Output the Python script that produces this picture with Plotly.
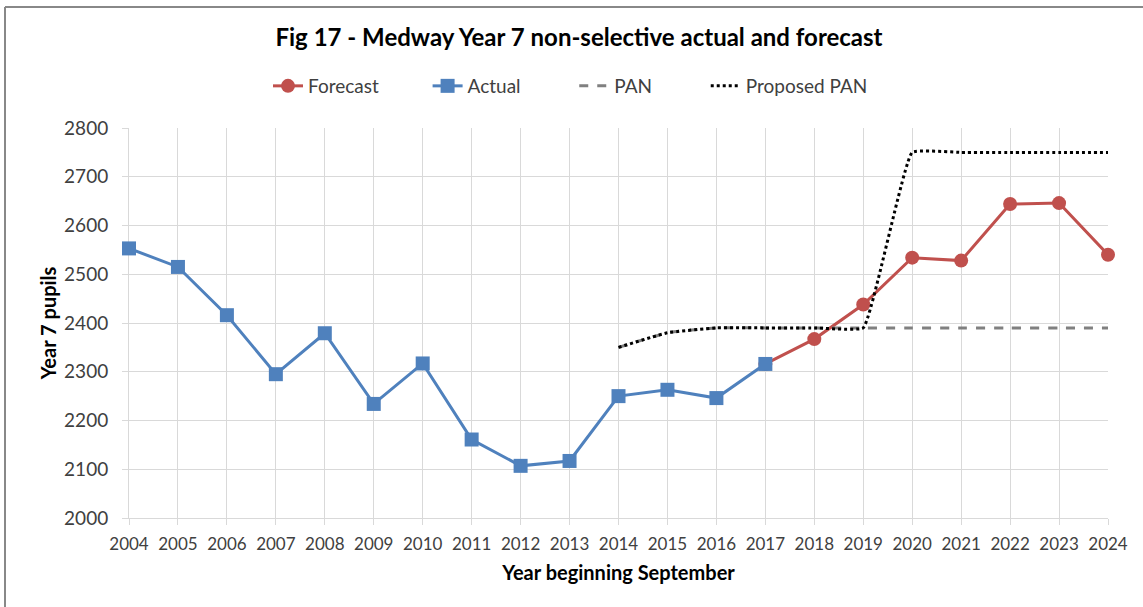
import plotly.graph_objects as go

years = list(range(2004, 2025))
actual_years = list(range(2004, 2018))
actual_vals = [2553, 2515, 2416, 2295, 2379, 2234, 2317, 2161, 2107, 2117, 2250, 2263, 2246, 2316]
forecast_years = list(range(2017, 2025))
forecast_vals = [2316, 2367, 2438, 2534, 2528, 2644, 2646, 2540]
pan_years = list(range(2014, 2025))
pan_vals = [2350, 2380, 2390, 2390, 2390, 2390, 2390, 2390, 2390, 2390, 2390]
prop_years = list(range(2014, 2025))
prop_vals = [2350, 2380, 2390, 2390, 2390, 2390, 2750, 2750, 2750, 2750, 2750]
y_ticks = [2000, 2100, 2200, 2300, 2400, 2500, 2600, 2700, 2800]

W, H = 1143, 607
L, R, T, B = 129, 1108, 128, 518

def px(xp):
    return (xp - L) / (R - L)

def py(yp):
    return (B - yp) / (B - T)

NB = "\u00a0"

fig = go.Figure()
fig.add_trace(go.Scatter(
    x=forecast_years, y=forecast_vals, name="Forecast" + NB * 9, mode="lines+markers",
    line=dict(color="#C0504D", width=3), cliponaxis=False,
    marker=dict(symbol="circle", size=14, color="#C0504D"), legendrank=1))
fig.add_trace(go.Scatter(
    x=actual_years, y=actual_vals, name="Actual" + NB * 10, mode="lines+markers",
    line=dict(color="#4F81BD", width=3), cliponaxis=False,
    marker=dict(symbol="square", size=14, color="#4F81BD"), legendrank=2))
fig.add_trace(go.Scatter(
    x=pan_years, y=pan_vals, name="PAN" + NB * 10, mode="lines",
    line=dict(color="#808080", width=3, dash="dash", shape="spline", smoothing=0.3),
    legendrank=3))
fig.add_trace(go.Scatter(
    x=prop_years, y=prop_vals, name="Proposed PAN", mode="lines",
    line=dict(color="#000000", width=3, dash="dot", shape="spline", smoothing=0.3),
    legendrank=4))

fig.update_layout(
    width=W, height=H,
    margin=dict(l=L, r=W - R, t=T, b=H - B),
    paper_bgcolor="white", plot_bgcolor="white",
    font=dict(family="Lato, Open Sans, sans-serif", size=17, color="#404040"),
    title=dict(text="<b>Fig 17 - Medway Year 7 non-selective actual and forecast</b>",
               x=px(579), xref="paper", xanchor="center",
               y=1 - 38 / H, yanchor="middle",
               font=dict(size=24, color="#000000")),
    legend=dict(orientation="h", x=px(268), xref="paper", xanchor="left",
                y=py(86), yanchor="middle", font=dict(size=19, color="#404040"),
                traceorder="normal"),
    showlegend=True,
)
fig.update_xaxes(
    range=[2004, 2024], tickmode="array", tickvals=years,
    ticktext=[str(y) for y in years], layer="below traces",
    showgrid=True, gridcolor="#D9D9D9", gridwidth=1,
    ticks="outside", ticklen=6, tickcolor="#D9D9D9",
    showline=True, linecolor="#D9D9D9", zeroline=False,
    tickfont=dict(size=17, color="#404040"), ticklabelstandoff=5,
    title=dict(text="<b>Year beginning September</b>", font=dict(size=20, color="#000000"),
               standoff=12),
)
fig.update_yaxes(
    range=[2000, 2800], tickmode="array", tickvals=y_ticks, layer="below traces",
    showgrid=True, gridcolor="#D9D9D9", gridwidth=1,
    ticks="outside", ticklen=6, tickcolor="#D9D9D9",
    showline=True, linecolor="#D9D9D9", zeroline=False,
    tickfont=dict(size=19, color="#404040"), ticklabelstandoff=10,
    title=dict(text="<b>Year 7 pupils</b>", font=dict(size=20, color="#000000"),
               standoff=2),
)
# outer chart frame (left and top edges visible)
fig.add_shape(type="line", xref="paper", yref="paper",
              x0=px(5), x1=px(5), y0=py(7), y1=py(620),
              line=dict(color="#888888", width=2))
fig.add_shape(type="line", xref="paper", yref="paper",
              x0=px(5), x1=px(1160), y0=py(7), y1=py(7),
              line=dict(color="#888888", width=2))

fig.write_html("out.html")
